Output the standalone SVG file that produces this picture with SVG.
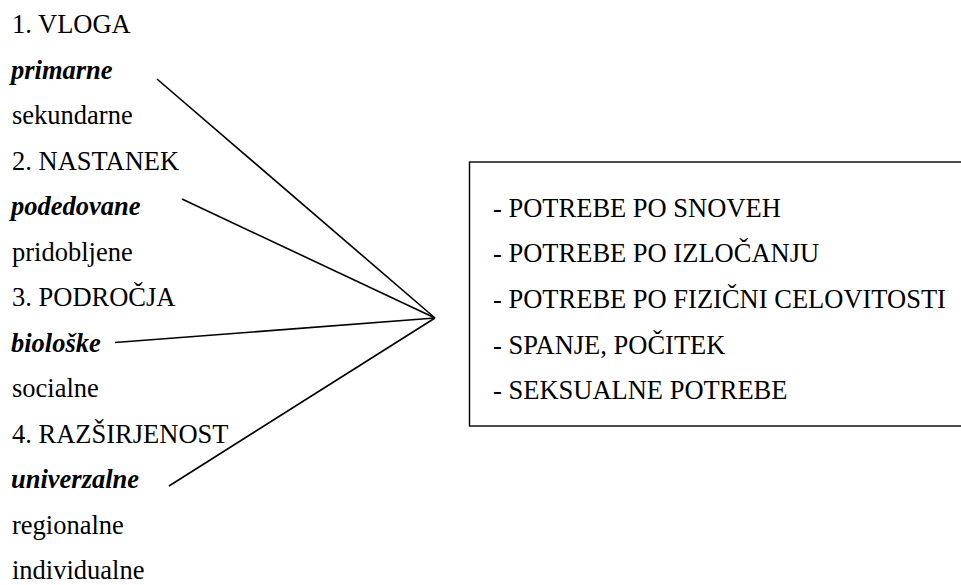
<svg xmlns="http://www.w3.org/2000/svg" width="961" height="585" viewBox="0 0 961 585">
<style>
text{font-family:"Liberation Serif","Times New Roman",serif;font-size:26.5px;fill:#000}
.b{font-weight:bold;font-style:italic}
.c{stroke:#000;stroke-width:1.6;fill:none}
.box{stroke:#000;stroke-width:1.4;fill:#fff}
</style>
<rect width="961" height="585" fill="#fff"/>
<g id="categories">
<text x="12" y="33.3">1. VLOGA</text>
<text x="11" y="78.8" class="b">primarne</text>
<text x="12" y="124.3">sekundarne</text>
<text x="12" y="169.8">2. NASTANEK</text>
<text x="11" y="215.3" class="b">podedovane</text>
<text x="12" y="260.8">pridobljene</text>
<text x="12" y="306.3">3. PODROČJA</text>
<text x="11" y="351.8" class="b">biološke</text>
<text x="12" y="397.3">socialne</text>
<text x="12" y="442.8">4. RAZŠIRJENOST</text>
<text x="11" y="488.3" class="b">univerzalne</text>
<text x="12" y="533.8">regionalne</text>
<text x="12" y="579">individualne</text>
</g>
<g id="needs">
<rect class="box" x="469.5" y="162" width="520" height="264"/>
<text x="493" y="216.5">- POTREBE PO SNOVEH</text>
<text x="493" y="262.2">- POTREBE PO IZLOČANJU</text>
<text x="493" y="307.9">- POTREBE PO FIZIČNI CELOVITOSTI</text>
<text x="493" y="353.6">- SPANJE, POČITEK</text>
<text x="493" y="399.3">- SEKSUALNE POTREBE</text>
</g>
<g id="connectors">
<line class="c" x1="157" y1="79" x2="435" y2="318"/>
<line class="c" x1="182" y1="199" x2="435" y2="318"/>
<line class="c" x1="115" y1="342.5" x2="435" y2="318"/>
<line class="c" x1="169" y1="486" x2="435" y2="318"/>
</g>
</svg>
